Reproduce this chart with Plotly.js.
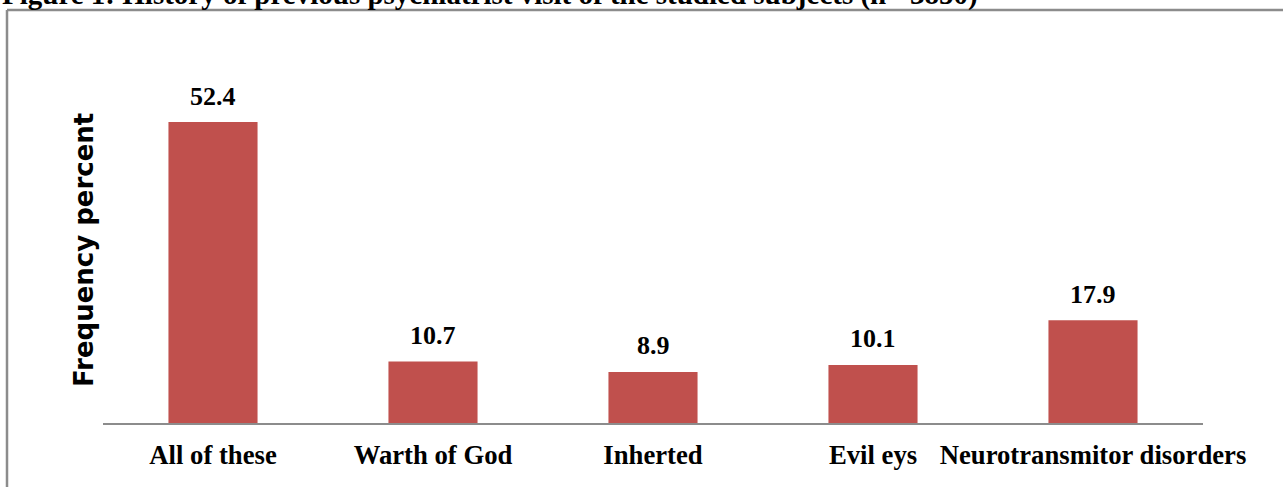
<!DOCTYPE html>
<html>
<head>
<meta charset="utf-8">
<script src="https://cdn.plot.ly/plotly-3.0.1.min.js"></script>
<style>html,body{margin:0;padding:0;background:#fff;}#chart{width:1283px;height:487px;}</style>
</head>
<body>
<div id="chart"></div>
<script>
const categories = ["All of these", "Warth of God", "Inherted", "Evil eys", "Neurotransmitor disorders"];
const values = [52.4, 10.7, 8.9, 10.1, 17.9];
const valueLabels = ["52.4", "10.7", "8.9", "10.1", "17.9"];
const chartTitle = "Figure 1: History of previous psychiatrist visit of the studied subjects (n= 3850)";
const yTitle = "Frequency percent";

const serifBold = "Liberation Serif, Times New Roman, serif";
const L = 103, T = 40, W = 1100, B = 64, H = 487 - T - B;
const px2x = p => (p - L) / W;
const py2y = p => (487 - B - p) / H;

const trace = {
  type: "bar",
  x: categories,
  y: values,
  marker: {color: "#C0504D", line: {width: 0}},
  hoverinfo: "x+y"
};

const annotations = categories.map((c, i) => ({
  x: c, y: values[i], xref: "x", yref: "y",
  text: "<b>" + valueLabels[i] + "</b>",
  showarrow: false, yanchor: "middle", yshift: 26,
  font: {family: serifBold, size: 26, color: "#000"}
}));
annotations.push({
  xref: "paper", yref: "paper", x: px2x(84), y: py2y(250),
  text: "<b>" + yTitle + "</b>", textangle: -90, showarrow: false,
  xanchor: "center", yanchor: "middle",
  font: {family: "DejaVu Sans, Verdana, sans-serif", size: 26, color: "#000"}
});
annotations.push({
  xref: "paper", yref: "paper", x: px2x(0), y: py2y(-5),
  text: "<b>" + chartTitle + "</b>", showarrow: false,
  xanchor: "left", yanchor: "middle",
  font: {family: serifBold, size: 29, color: "#000"}
});

const layout = {
  width: 1283, height: 487,
  margin: {l: L, r: 1283 - L - W, t: T, b: B, pad: 0},
  paper_bgcolor: "#fff", plot_bgcolor: "#fff",
  bargap: 0.595,
  showlegend: false,
  xaxis: {
    showline: true, linecolor: "#8c8c8c", linewidth: 2,
    ticks: "", showgrid: false, zeroline: false,
    ticklabelstandoff: 7,
    tickfont: {family: serifBold, size: 26.7, color: "#000"},
    tickprefix: "<b>", ticksuffix: "</b>"
  },
  yaxis: {
    range: [0, H / 5.744], showline: false, showgrid: false, zeroline: false,
    showticklabels: false, ticks: ""
  },
  annotations: annotations,
  shapes: [
    {type: "line", xref: "paper", yref: "paper", x0: px2x(7), x1: px2x(7), y0: py2y(10), y1: py2y(520), line: {color: "#8c8c8c", width: 2.5}},
    {type: "line", xref: "paper", yref: "paper", x0: px2x(7), x1: px2x(1320), y0: py2y(10), y1: py2y(10), line: {color: "#8c8c8c", width: 2.5}}
  ]
};

Plotly.newPlot("chart", [trace], layout, {displayModeBar: false, staticPlot: true});
</script>
</body>
</html>
